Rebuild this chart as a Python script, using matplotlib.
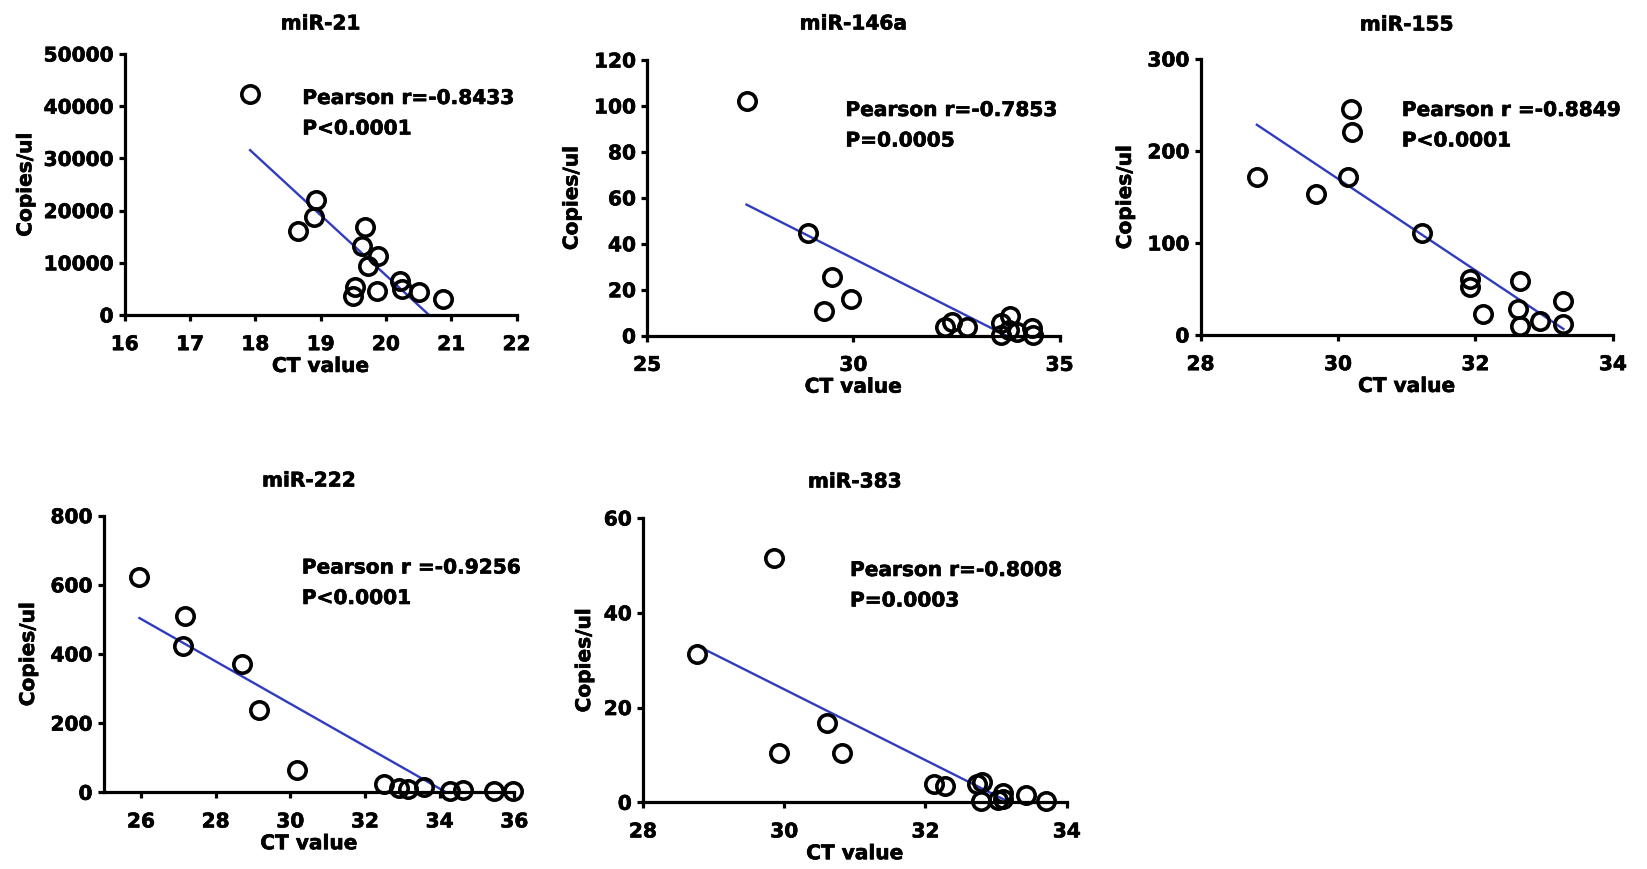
import numpy as np
import matplotlib
matplotlib.use('Agg')
import matplotlib.pyplot as plt
import matplotlib.patheffects as pe

W, H = 1647, 870

titles = ['miR-21', 'miR-146a', 'miR-155', 'miR-222', 'miR-383']

ct_21 = [17.92, 18.66, 18.90, 18.93, 19.68, 19.63, 19.88, 19.73, 19.53, 19.50,
         19.86, 20.22, 20.24, 20.50, 20.88]
copies_21 = [42340, 16030, 18770, 22090, 16800, 13280, 11360, 9330, 5300, 3580,
             4660, 6570, 4980, 4470, 3070]

ct_146a = [27.41, 28.91, 29.48, 29.29, 29.94, 32.22, 32.38, 32.75, 33.57, 33.80,
           33.58, 33.78, 33.96, 34.32, 34.35]
copies_146a = [102.3, 44.6, 25.7, 10.6, 16.0, 3.7, 5.8, 3.7, 5.5, 8.5,
               0.5, 2.5, 1.5, 3.5, 0.3]

ct_155 = [28.82, 29.68, 30.19, 30.20, 30.15, 31.22, 31.92, 31.92, 32.11, 32.65,
          32.62, 32.65, 32.94, 33.28, 33.28]
copies_155 = [171.4, 153.3, 245.7, 220.3, 172.1, 110.5, 60.9, 51.8, 22.8, 59.0,
              28.3, 10.1, 15.5, 37.3, 12.0]

ct_222 = [25.96, 27.18, 27.13, 28.70, 29.15, 30.18, 32.52, 32.92, 33.14, 33.59,
          34.28, 34.62, 35.45, 35.97]
copies_222 = [622, 511, 424, 371, 238, 65, 24, 12, 9, 15, 5, 7, 4, 4]

ct_383 = [29.86, 28.77, 30.60, 29.92, 30.82, 32.12, 32.27, 32.73, 32.80, 32.78,
          33.02, 33.10, 33.10, 33.42, 33.71]
copies_383 = [51.5, 31.4, 16.7, 10.4, 10.3, 3.8, 3.4, 3.9, 4.2, 0.3,
              0.4, 2.0, 0.6, 1.5, 0.2]

stats_r = ['Pearson r=-0.8433', 'Pearson r=-0.7853', 'Pearson r =-0.8849',
           'Pearson r =-0.9256', 'Pearson r=-0.8008']
stats_p = ['P<0.0001', 'P=0.0005', 'P<0.0001', 'P<0.0001', 'P=0.0003']

xticks = [list(range(16, 23)), [25, 30, 35], [28, 30, 32, 34],
          [26, 28, 30, 32, 34, 36], [28, 30, 32, 34]]
yticks = [list(range(0, 50001, 10000)), list(range(0, 121, 20)), [0, 100, 200, 300],
          list(range(0, 801, 200)), [0, 20, 40, 60]]
xlims = [(16, 22), (25, 35), (28, 34), (25, 36), (28, 34)]

xs_all = [ct_21, ct_146a, ct_155, ct_222, ct_383]
ys_all = [copies_21, copies_146a, copies_155, copies_222, copies_383]

# axes boxes in pixels: left, top, right, bottom
boxes = [(124.7, 55, 516.5, 316), (647.1, 61, 1059.6, 336.7), (1200.5, 60, 1612.9, 336),
         (103.6, 516.7, 514.3, 793.3), (642.9, 519, 1066.8, 803.3)]
# title centre y, stats text left x / first line y (pixels)
title_y = [25, 25, 26, 482, 483]
text_pos = [(302.3, 99.5), (845.4, 111.5), (1401.8, 111.5), (301.8, 569), (850, 571.5)]
ylabel_pad = [6, 9, 9, 9, 7]

plt.rcParams['font.family'] = 'DejaVu Sans'
plt.rcParams['font.weight'] = 'bold'
FS = 14.5
heavy = [pe.withStroke(linewidth=0.45, foreground='black')]

fig = plt.figure(figsize=(W / 100, H / 100), dpi=100)

for i in range(5):
    l, t, r, b = boxes[i]
    ax = fig.add_axes([l / W, 1 - b / H, (r - l) / W, (b - t) / H])
    x = np.array(xs_all[i])
    y = np.array(ys_all[i])

    # linear regression line
    k, c = np.polyfit(x, y, 1)
    xl = np.array([x.min(), x.max()])
    ax.plot(xl, k * xl + c, color='#2f3cc0', lw=1.7, zorder=2)

    ax.plot(x, y, 'o', mfc='none', mec='black', ms=12.5, mew=2.6,
            clip_on=False, zorder=3)

    ax.set_xlim(*xlims[i])
    ax.set_ylim(0, yticks[i][-1])
    ax.set_xticks(xticks[i])
    ax.set_yticks(yticks[i])
    for s in ['top', 'right']:
        ax.spines[s].set_visible(False)
    for s in ['left', 'bottom']:
        ax.spines[s].set_linewidth(2.3)
    ax.tick_params(direction='out', length=4.5, width=2.3, labelsize=FS)
    ax.tick_params(axis='x', pad=10)
    ax.tick_params(axis='y', pad=3.5)
    ax.set_xlabel('CT value', fontsize=FS, fontweight='bold', labelpad=2)
    ax.set_ylabel('Copies/ul', fontsize=FS, fontweight='bold', labelpad=ylabel_pad[i])
    for lab in ax.get_xticklabels() + ax.get_yticklabels() + [ax.xaxis.label, ax.yaxis.label]:
        lab.set_path_effects(heavy)

    fig.text((l + r) / 2 / W, 1 - title_y[i] / H, titles[i], ha='center', va='center',
             fontsize=FS, fontweight='bold', path_effects=heavy)
    tx, ty = text_pos[i]
    fig.text(tx / W, 1 - ty / H, stats_r[i], ha='left', va='center',
             fontsize=FS, fontweight='bold', path_effects=heavy)
    fig.text(tx / W, 1 - (ty + 30.5) / H, stats_p[i], ha='left', va='center',
             fontsize=FS, fontweight='bold', path_effects=heavy)

fig.savefig('out.png', dpi=100)
